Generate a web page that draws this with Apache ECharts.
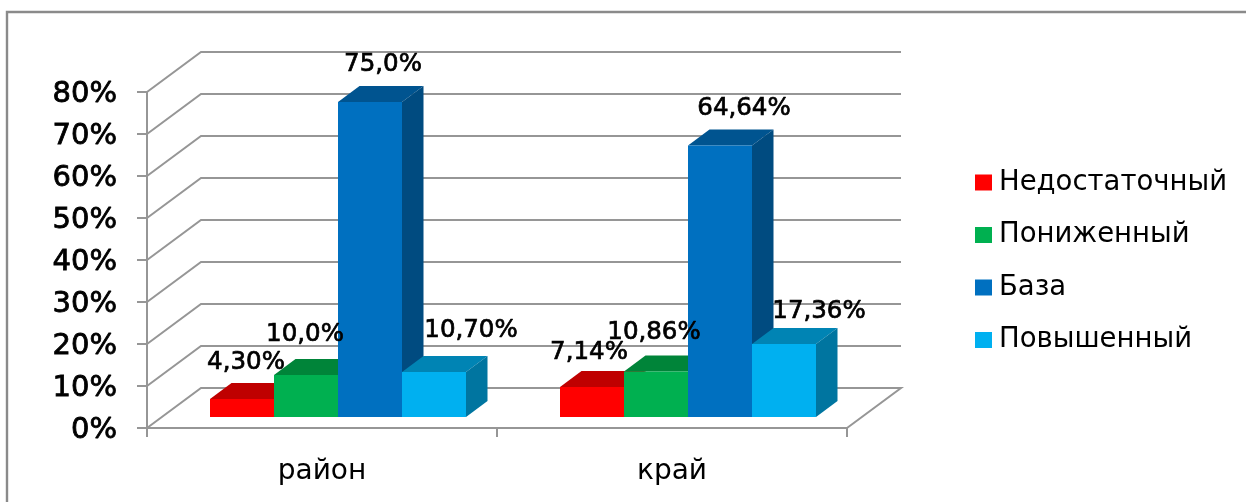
<!DOCTYPE html>
<html>
<head>
<meta charset="utf-8">
<style>
  html, body { margin: 0; padding: 0; background: #fff; }
  #main { width: 1246px; height: 502px; }
</style>
<script src="https://cdn.jsdelivr.net/npm/echarts@6/dist/echarts.min.js"></script>
</head>
<body>
<div id="main"></div>
<script>
const categories = ["район", "край"];
const yTicks = [0, 10, 20, 30, 40, 50, 60, 70, 80];

const seriesNames = ["Недостаточный", "Пониженный", "База", "Повышенный"];
const nedostatochny = [4.3, 7.14];
const ponizhenny = [10.0, 10.86];
const baza = [75.0, 64.64];
const povysheny = [10.7, 17.36];

const nedostatochnyLabels = ["4,30%", "7,14%"];
const ponizhennyLabels = ["10,0%", "10,86%"];
const bazaLabels = ["75,0%", "64,64%"];
const povyshenyLabels = ["10,70%", "17,36%"];

// pseudo 3d: depth of the walls and of the bars, in px
const WALL_DX = 54, WALL_DY = -40;
const BAR_DX = 21.5, BAR_DY = -16;
const BAR_SHIFT_X = 16, BAR_SHIFT_Y = -11;
const BAR_W = 64;
const GRAY = "#969696";

const wallItem = (params, api) => {
  const v = api.value(0);
  const cs = params.coordSys;
  const y = api.coord([0, v])[1];
  const left = cs.x, right = cs.x + cs.width;
  const points = [[left, y], [left + WALL_DX, y + WALL_DY], [right + WALL_DX, y + WALL_DY]];
  if (v === 0) points.push([right, y]);
  return {
    type: "polyline",
    shape: { points },
    style: { stroke: GRAY, lineWidth: 2, fill: null }
  };
};

const barSeries = (name, index, values, labels, front, top, side, nudges) => ({
  name,
  type: "custom",
  coordinateSystem: "cartesian2d",
  itemStyle: { color: front },
  encode: { x: 0, y: 1 },
  data: values.map((v, i) => [i, v]),
  renderItem: (params, api) => {
    const cat = api.value(0);
    const p = api.coord([cat, api.value(1)]);
    const base = api.coord([cat, 0]);
    const x0 = p[0] + BAR_SHIFT_X + (index - 2) * BAR_W;
    const x1 = x0 + BAR_W;
    const yt = p[1] + BAR_SHIFT_Y;
    const yb = base[1] + BAR_SHIFT_Y;
    const nudge = nudges[cat];
    return {
      type: "group",
      children: [
        { type: "polygon", shape: { points: [[x0, yt], [x1, yt], [x1 + BAR_DX, yt + BAR_DY], [x0 + BAR_DX, yt + BAR_DY]] }, style: { fill: top } },
        { type: "polygon", shape: { points: [[x1, yt], [x1 + BAR_DX, yt + BAR_DY], [x1 + BAR_DX, yb + BAR_DY], [x1, yb]] }, style: { fill: side } },
        { type: "rect", shape: { x: x0, y: yt, width: BAR_W, height: yb - yt }, style: { fill: front } },
        {
          type: "text",
          z2: 50,
          style: {
            text: labels[cat],
            x: (x0 + x1) / 2 + nudge[0],
            y: yt + nudge[1] + 2,
            align: "center",
            verticalAlign: "middle",
            fill: "#000",
            stroke: "#000",
            lineWidth: 0.7,
            font: "24.5px 'DejaVu Sans'"
          }
        }
      ]
    };
  }
});

const chart = echarts.init(document.getElementById("main"), null, { renderer: "canvas" });
chart.setOption({
  backgroundColor: "#fff",
  animation: false,
  graphic: [{
    type: "rect",
    shape: { x: 7, y: 12, width: 1260, height: 510 },
    style: { fill: null, stroke: "#8a8a8a", lineWidth: 2.4 },
    silent: true
  }],
  grid: { left: 147, right: 399, top: 92, bottom: 74 },
  legend: {
    data: seriesNames,
    orient: "vertical",
    left: 975,
    top: 167,
    padding: 0,
    icon: "rect",
    itemWidth: 17,
    itemHeight: 16,
    itemGap: 21.5,
    textStyle: { color: "#000", fontFamily: "DejaVu Sans", fontSize: 27.5, lineHeight: 30, padding: [1, 0, 0, 2] }
  },
  xAxis: {
    type: "category",
    data: categories,
    axisLine: { lineStyle: { color: GRAY, width: 2 } },
    axisTick: { show: true, length: 9, lineStyle: { color: GRAY, width: 2 } },
    axisLabel: { color: "#000", fontFamily: "DejaVu Sans", fontSize: 28, margin: 30 }
  },
  yAxis: {
    type: "value",
    min: 0,
    max: 80,
    interval: 10,
    splitLine: { show: false },
    axisLine: { show: true, lineStyle: { color: GRAY, width: 2 } },
    axisTick: { show: true, length: 10, lineStyle: { color: GRAY, width: 2 } },
    axisLabel: {
      margin: 30,
      formatter: "{pct|{value}%}",
      rich: {
        pct: {
          color: "#000",
          fontFamily: "DejaVu Sans",
          fontSize: 29,
          textBorderColor: "#000",
          textBorderWidth: 0.8,
          padding: [5, 0, 0, 0]
        }
      }
    }
  },
  series: [
    { type: "custom", name: "walls", silent: true, z: 1, encode: { y: 0 }, data: yTicks.map((v) => [v]), renderItem: wallItem },
    barSeries(seriesNames[0], 0, nedostatochny, nedostatochnyLabels, "#ff0000", "#bf0000", "#a80000", [[4, -38], [-3, -36]]),
    barSeries(seriesNames[1], 1, ponizhenny, ponizhennyLabels, "#00b050", "#008439", "#006f30", [[-1, -42], [-2, -41]]),
    barSeries(seriesNames[2], 2, baza, bazaLabels, "#0070c0", "#005490", "#004b80", [[13, -39], [24, -39]]),
    barSeries(seriesNames[3], 3, povysheny, povyshenyLabels, "#00b0f0", "#0084b4", "#0075a0", [[37, -43], [35, -34]])
  ]
});
</script>
</body>
</html>
